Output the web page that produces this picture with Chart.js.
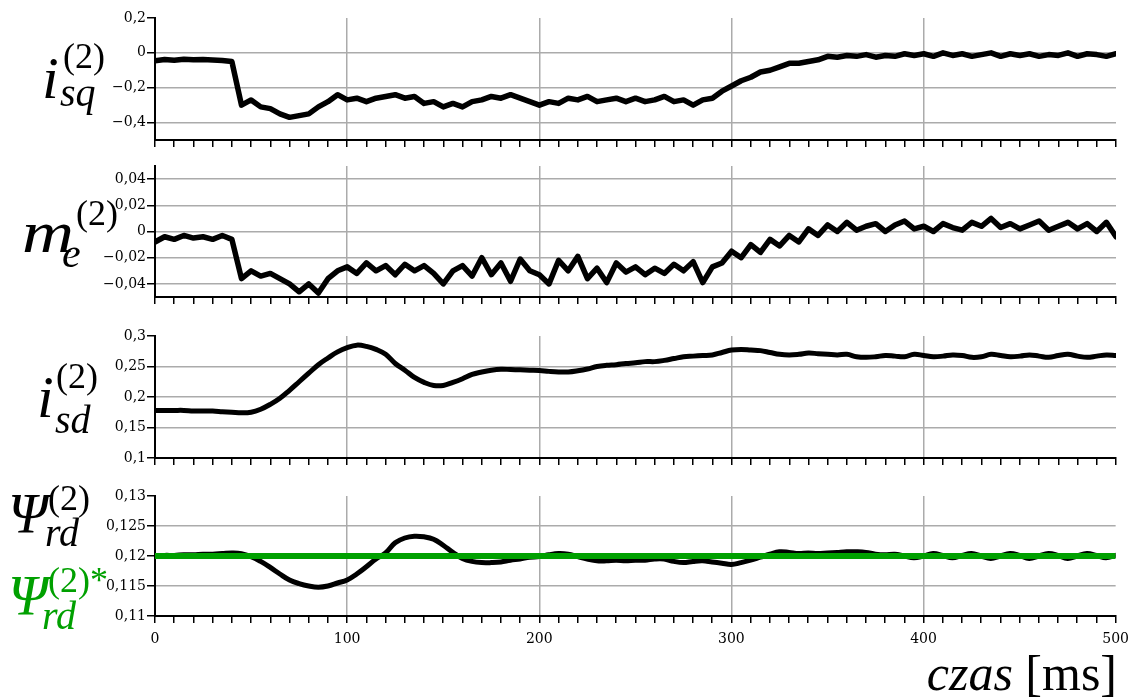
<!DOCTYPE html>
<html>
<head>
<meta charset="utf-8">
<script src="https://cdn.jsdelivr.net/npm/chart.js@4/dist/chart.umd.min.js"></script>
<style>
    body { margin: 0; background: #fff; }
    #wrap { position: relative; width: 1131px; height: 700px; background: #fff; overflow: hidden; }
    canvas { position: absolute; left: 0; }
    .lbl { position: absolute; font-family: "Liberation Serif", "Times New Roman", serif; line-height: 1; white-space: nowrap; color: #000; }
    .it { font-style: italic; }
    .green { color: #00a000; }
</style>
</head>
<body>
<div id="wrap">
    <canvas id="c1" width="1131" height="142" style="top:8px"></canvas>
    <canvas id="c2" width="1131" height="151" style="top:156px"></canvas>
    <canvas id="c3" width="1131" height="142" style="top:326px"></canvas>
    <canvas id="c4" width="1131" height="164" style="top:486px"></canvas>

    <div class="lbl it" style="left:42px;top:48px;font-size:60px">i</div>
    <div class="lbl" style="left:63px;top:38px;font-size:36px">(2)</div>
    <div class="lbl it" style="left:60px;top:73px;font-size:40px">sq</div>

    <div class="lbl it" style="left:22px;top:202px;font-size:60px;transform:scaleX(1.2);transform-origin:left">m</div>
    <div class="lbl it" style="left:62px;top:232px;font-size:42px">e</div>
    <div class="lbl" style="left:76px;top:195px;font-size:36px">(2)</div>

    <div class="lbl it" style="left:37px;top:367px;font-size:60px">i</div>
    <div class="lbl" style="left:56px;top:358px;font-size:36px">(2)</div>
    <div class="lbl it" style="left:55px;top:400px;font-size:40px">sd</div>

    <div class="lbl it" style="left:8px;top:485px;font-size:57px">Ψ</div>
    <div class="lbl" style="left:48px;top:480px;font-size:36px">(2)</div>
    <div class="lbl it" style="left:45px;top:513px;font-size:40px">rd</div>

    <div class="lbl it green" style="left:8px;top:567px;font-size:57px">Ψ</div>
    <div class="lbl green" style="left:48px;top:562px;font-size:36px">(2)*</div>
    <div class="lbl it green" style="left:42px;top:596px;font-size:40px">rd</div>

    <div class="lbl" style="right:14px;top:648px;font-size:50px"><span class="it">czas</span> [ms]</div>
</div>
<script>
// time axis [ms]
const times = [
    0, 5, 10, 15, 20, 25, 30, 35, 40, 45,
    50, 55, 60, 65, 70, 75, 80, 85, 90, 95,
    100, 105, 110, 115, 120, 125, 130, 135, 140, 145,
    150, 155, 160, 165, 170, 175, 180, 185, 190, 195,
    200, 205, 210, 215, 220, 225, 230, 235, 240, 245,
    250, 255, 260, 265, 270, 275, 280, 285, 290, 295,
    300, 305, 310, 315, 320, 325, 330, 335, 340, 345,
    350, 355, 360, 365, 370, 375, 380, 385, 390, 395,
    400, 405, 410, 415, 420, 425, 430, 435, 440, 445,
    450, 455, 460, 465, 470, 475, 480, 485, 490, 495,
    500
];

// i_sq
const iSq = [
    -0.045, -0.038, -0.042, -0.037, -0.040, -0.038, -0.041, -0.044, -0.050, -0.300,
    -0.270, -0.310, -0.320, -0.350, -0.370, -0.360, -0.350, -0.310, -0.280, -0.240,
    -0.270, -0.260, -0.280, -0.260, -0.250, -0.240, -0.260, -0.250, -0.290, -0.280,
    -0.310, -0.290, -0.310, -0.280, -0.270, -0.250, -0.260, -0.240, -0.260, -0.280,
    -0.300, -0.280, -0.290, -0.260, -0.270, -0.250, -0.280, -0.270, -0.260, -0.280,
    -0.260, -0.280, -0.270, -0.250, -0.280, -0.270, -0.300, -0.270, -0.260, -0.220,
    -0.190, -0.160, -0.140, -0.110, -0.100, -0.080, -0.060, -0.060, -0.050, -0.040,
    -0.020, -0.025, -0.015, -0.020, -0.010, -0.025, -0.015, -0.020, -0.005, -0.015,
    -0.005, -0.020, 0.000, -0.015, -0.005, -0.020, -0.010, 0.000, -0.020, -0.005,
    -0.015, -0.005, -0.020, -0.010, -0.015, 0.000, -0.020, -0.005, -0.010, -0.020,
    -0.005
];

// m_e
const mE = [
    -0.008, -0.004, -0.006, -0.003, -0.005, -0.004, -0.006, -0.003, -0.006, -0.036,
    -0.030, -0.034, -0.032, -0.036, -0.040, -0.046, -0.040, -0.047, -0.036, -0.030,
    -0.027, -0.032, -0.024, -0.030, -0.026, -0.033, -0.025, -0.030, -0.026, -0.032,
    -0.040, -0.030, -0.026, -0.034, -0.020, -0.033, -0.024, -0.038, -0.021, -0.030,
    -0.033, -0.040, -0.022, -0.030, -0.019, -0.036, -0.028, -0.039, -0.024, -0.031,
    -0.027, -0.033, -0.028, -0.032, -0.025, -0.030, -0.023, -0.039, -0.027, -0.024,
    -0.015, -0.020, -0.010, -0.016, -0.006, -0.011, -0.003, -0.008, 0.002, -0.003,
    0.005, 0.000, 0.007, 0.001, 0.004, 0.006, 0.000, 0.005, 0.008, 0.002,
    0.004, 0.000, 0.006, 0.003, 0.001, 0.007, 0.004, 0.010, 0.003, 0.006,
    0.002, 0.005, 0.008, 0.001, 0.004, 0.007, 0.002, 0.006, 0.000, 0.007,
    -0.004
];

// i_sd
const iSd = [
    0.178, 0.178, 0.178, 0.178, 0.177, 0.177, 0.177, 0.176, 0.175, 0.174,
    0.175, 0.180, 0.188, 0.198, 0.211, 0.225, 0.239, 0.253, 0.264, 0.274,
    0.281, 0.285, 0.283, 0.278, 0.270, 0.255, 0.244, 0.232, 0.224, 0.219,
    0.219, 0.224, 0.230, 0.237, 0.241, 0.244, 0.2455, 0.245, 0.2445, 0.244,
    0.2435, 0.242, 0.241, 0.241, 0.243, 0.246, 0.250, 0.252, 0.253, 0.255,
    0.256, 0.258, 0.258, 0.260, 0.263, 0.266, 0.267, 0.268, 0.269, 0.273,
    0.277, 0.278, 0.277, 0.276, 0.273, 0.270, 0.269, 0.270, 0.272, 0.271,
    0.270, 0.269, 0.270, 0.266, 0.265, 0.266, 0.268, 0.267, 0.266, 0.270,
    0.268, 0.266, 0.267, 0.269, 0.268, 0.265, 0.266, 0.270, 0.268, 0.266,
    0.267, 0.269, 0.267, 0.265, 0.268, 0.270, 0.267, 0.265, 0.267, 0.269,
    0.268
];

// Psi_rd
const psiRd = [
    0.1200, 0.1201, 0.1201, 0.1202, 0.1202, 0.1203, 0.1203, 0.1204, 0.1205, 0.1204,
    0.1199, 0.1191, 0.1181, 0.1170, 0.1160, 0.1154, 0.1150, 0.1148, 0.1150, 0.1155,
    0.1160, 0.1170, 0.1182, 0.1195, 0.1205, 0.1222, 0.1230, 0.1233, 0.1232, 0.1228,
    0.1218, 0.1206, 0.1196, 0.1191, 0.1189, 0.1189, 0.1190, 0.1193, 0.1195, 0.1198,
    0.1199, 0.1202, 0.1204, 0.1203, 0.1199, 0.1195, 0.1192, 0.1192, 0.1193, 0.1192,
    0.1193, 0.1193, 0.1195, 0.1195, 0.1191, 0.1189, 0.1191, 0.1192, 0.1190, 0.1188,
    0.1186, 0.1189, 0.1193, 0.1198, 0.1203, 0.1207, 0.1206, 0.1204, 0.1205, 0.1204,
    0.1205, 0.1206, 0.1207, 0.1207, 0.1206, 0.1203, 0.1202, 0.1203, 0.1200, 0.1197,
    0.1200, 0.1204, 0.1201, 0.1197, 0.1201, 0.1204, 0.1200, 0.1196, 0.1200, 0.1204,
    0.1201, 0.1196, 0.1200, 0.1204, 0.1201, 0.1196, 0.1200, 0.1204, 0.1201, 0.1197,
    0.1201
];

// Psi_rd* (reference)
const refTimes = [0, 500];
const psiRef = [0.12, 0.12];

// y tick labels per panel
const yTicks1 = [-0.4, -0.2, 0, 0.2];
const yTicks2 = [-0.04, -0.02, 0, 0.02, 0.04];
const yTicks3 = [0.1, 0.15, 0.2, 0.25, 0.3];
const yTicks4 = [0.11, 0.115, 0.12, 0.125, 0.13];

const GRID = '#ababab';
const TICK_FONT = { family: '"DejaVu Serif", serif', size: 14 };
// taller line height only pushes the x labels down a bit
const X_TICK_FONT = { family: '"DejaVu Serif", serif', size: 14, lineHeight: 2 };

function fmt(v) {
    const s = String(+Math.abs(v).toFixed(3)).replace('.', ',');
    return v < 0 ? '\u2212' + s : s;
}

function toXY(xs, ys) {
    return xs.map((x, i) => ({ x: x, y: ys[i] }));
}

function makeOptions(yMin, yMax, yTicks, last) {
    return {
        responsive: false,
        animation: false,
        layout: { padding: { top: 10, right: 15, left: 0, bottom: 0 } },
        plugins: { legend: { display: false }, tooltip: { enabled: false } },
        elements: { point: { radius: 0 } },
        scales: {
            x: {
                type: 'linear',
                min: 0,
                max: 500,
                afterFit: (scale) => { scale.height = last ? 34 : 10; },
                border: { display: true, color: '#000', width: 2 },
                grid: {
                    color: (ctx) => {
                        const v = ctx.tick ? ctx.tick.value : 0;
                        return (v % 100 === 0 && v > 0 && v < 500) ? GRID : 'rgba(0,0,0,0)';
                    },
                    lineWidth: 1.5,
                    drawTicks: true,
                    tickLength: 7,
                    tickColor: '#000',
                    tickWidth: 1.5
                },
                ticks: {
                    stepSize: 10,
                    maxTicksLimit: 60,
                    autoSkip: false,
                    maxRotation: 0,
                    display: last,
                    padding: 2,
                    color: '#000',
                    font: X_TICK_FONT,
                    callback: (v) => (v % 100 === 0 ? String(v) : '')
                }
            },
            y: {
                min: yMin,
                max: yMax,
                afterFit: (scale) => { scale.width = 155; },
                afterBuildTicks: (scale) => { scale.ticks = yTicks.map(v => ({ value: v })); },
                border: { display: true, color: '#000', width: 2 },
                grid: {
                    color: (ctx) => (ctx.tick && Math.abs(ctx.tick.value - yMax) < 1e-9) ? 'rgba(0,0,0,0)' : GRID,
                    lineWidth: 1.5,
                    tickLength: 8,
                    tickColor: '#000',
                    tickWidth: 1.5
                },
                ticks: {
                    padding: 1,
                    color: '#000',
                    font: TICK_FONT,
                    callback: (v) => fmt(v)
                }
            }
        }
    };
}

function blackLine(ys, width, tension) {
    return {
        data: toXY(times, ys),
        borderColor: '#000',
        borderWidth: width,
        tension: tension,
        borderJoinStyle: 'round',
        borderCapStyle: 'round',
        fill: false
    };
}

new Chart(document.getElementById('c1'), {
    type: 'line',
    data: { datasets: [blackLine(iSq, 5.5, 0)] },
    options: makeOptions(-0.5, 0.2, yTicks1, false)
});

new Chart(document.getElementById('c2'), {
    type: 'line',
    data: { datasets: [blackLine(mE, 5.5, 0)] },
    options: makeOptions(-0.05, 0.05, yTicks2, false)
});

new Chart(document.getElementById('c3'), {
    type: 'line',
    data: { datasets: [blackLine(iSd, 5, 0.4)] },
    options: makeOptions(0.1, 0.3, yTicks3, false)
});

new Chart(document.getElementById('c4'), {
    type: 'line',
    data: {
        datasets: [
            {
                data: toXY(refTimes, psiRef),
                borderColor: '#00a000',
                borderWidth: 6,
                fill: false
            },
            blackLine(psiRd, 5, 0.4)
        ]
    },
    options: makeOptions(0.11, 0.13, yTicks4, true)
});
</script>
</body>
</html>
